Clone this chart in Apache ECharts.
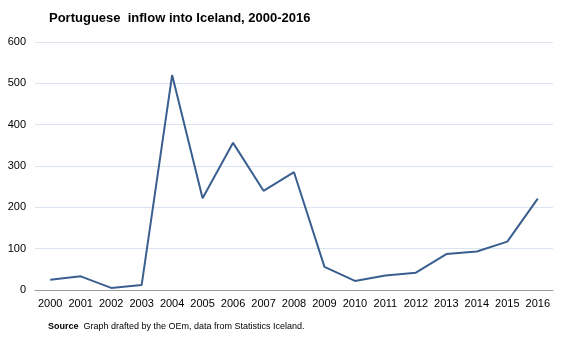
<!DOCTYPE html>
<html><head><meta charset="utf-8">
<script src="https://cdn.jsdelivr.net/npm/echarts@6/dist/echarts.min.js"></script>
<style>html,body{margin:0;padding:0;background:#fff}#c{width:567px;height:340px}</style>
</head><body><div id="c"></div>
<script>
const years = ['2000','2001','2002','2003','2004','2005','2006','2007','2008','2009','2010','2011','2012','2013','2014','2015','2016'];
const inflow = [25,33,5,12,520,222,356,240,285,56,22,35,42,87,93,117,221];
const yTicks = [0,100,200,300,400,500,600];
const titleText = 'Portuguese  inflow into Iceland, 2000-2016';
const sourceLabel = 'Source';
const sourceText = '  Graph drafted by the OEm, data from Statistics Iceland.';

const chart = echarts.init(document.getElementById('c'), null, {renderer:'canvas'});
chart.setOption({
  animation:false,
  textStyle:{fontFamily:'Liberation Sans, Arial, sans-serif'},
  title:[{
    text:titleText, left:49, top:12, padding:0,
    textStyle:{fontSize:13, fontWeight:'bold', color:'#000', fontFamily:'Liberation Sans, Arial, sans-serif'}
  },{
    text:'{b|'+sourceLabel+'}{n|'+sourceText+'}', left:48, top:322, padding:0,
    textStyle:{fontWeight:'normal', rich:{
      b:{fontSize:9, fontWeight:'bold', color:'#000', fontFamily:'Liberation Sans, Arial, sans-serif'},
      n:{fontSize:9, fontWeight:'normal', color:'#000', fontFamily:'Liberation Sans, Arial, sans-serif'}
    }}
  }],
  grid:{left:35, right:14, top:42, bottom:50, containLabel:false},
  xAxis:{
    type:'category', data:years, boundaryGap:true,
    axisLine:{lineStyle:{color:'#9a9a9a', width:1}},
    axisTick:{show:false},
    axisLabel:{color:'#000', fontSize:11, margin:8, interval:0}
  },
  yAxis:{
    type:'value', min:yTicks[0], max:yTicks[yTicks.length-1], interval:100,
    axisLine:{show:false}, axisTick:{show:false},
    axisLabel:{color:'#000', fontSize:11, margin:9},
    splitLine:{lineStyle:{color:'#dbe5f0', width:1}}
  },
  series:[{
    type:'line', data:inflow, symbol:'none',
    lineStyle:{color:'#3a5f8f', width:2},
    itemStyle:{color:'#3a5f8f'}
  }]
});
</script></body></html>
